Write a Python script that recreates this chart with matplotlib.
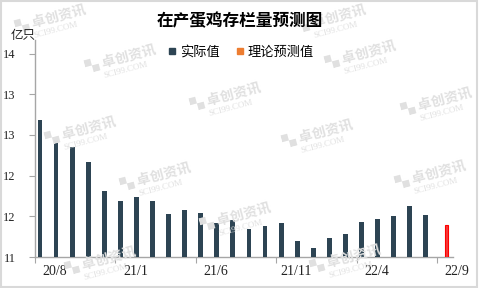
import matplotlib
matplotlib.use("Agg")
import matplotlib.pyplot as plt
import matplotlib.transforms as mtransforms
from matplotlib.lines import Line2D
from matplotlib.patches import Rectangle

plt.rcParams['font.family'] = ['Noto Sans CJK SC', 'DejaVu Sans']

# ---- data ----
categories = ['20/8', '20/9', '20/10', '20/11', '20/12', '21/1', '21/2', '21/3', '21/4',
              '21/5', '21/6', '21/7', '21/8', '21/9', '21/10', '21/11', '21/12', '22/1',
              '22/2', '22/3', '22/4', '22/5', '22/6', '22/7', '22/8', '22/9']
actual = [13.02, 12.72, 12.62, 12.40, 11.97, 11.82, 11.88, 11.82, 11.63, 11.70,
          11.65, 11.50, 11.54, 11.41, 11.45, 11.50, 11.23, 11.13, 11.28, 11.34,
          11.51, 11.56, 11.60, 11.75, 11.62]
predicted_index = 25
predicted = 11.47
y_ticks = [11, 11.6, 12.2, 12.8, 13.4, 14]
y_tick_labels = ['11', '12', '12', '13', '13', '14']
x_label_every = 5

fig = plt.figure(figsize=(4.8, 2.88), dpi=100)
ax = fig.add_axes([35/480, 1-257/288, (453-35)/480, (257-40)/288])

dark = '#2d4453'
xs = list(range(len(actual)))
ax.bar([x - 0.19 for x in xs], actual, width=0.30, bottom=0, color=dark, zorder=3)
ax.bar([predicted_index + 0.11], [predicted], width=0.19, color='#f43a3a',
       edgecolor='#ff0000', linewidth=0.8, zorder=3)

ax.set_xlim(-0.5, len(categories) - 0.5)
ax.set_ylim(11, 14.2)

# y axis
ax.set_yticks(y_ticks)
ax.set_yticklabels(y_tick_labels, fontsize=9, family=['Liberation Serif'], color='#222222')
ax.tick_params(axis='y', direction='out', length=4, width=0.8, color='#a6a6a6', pad=10)

# x axis: labels every 5 categories, shifted right; tick marks between groups
lab_pos = list(range(0, len(categories), x_label_every))
ax.set_xticks(lab_pos)
ax.set_xticklabels([categories[i] for i in lab_pos], fontsize=10,
                   family=['Liberation Serif'], color='#222222')
ax.tick_params(axis='x', which='major', length=0, pad=6)
ax.set_xticks([p - 0.5 for p in lab_pos], minor=True)
ax.tick_params(axis='x', which='minor', direction='out', length=4, width=0.8, color='#a6a6a6')
offset = mtransforms.ScaledTranslation(12/100, 0, fig.dpi_scale_trans)
for lbl in ax.get_xticklabels():
    lbl.set_transform(lbl.get_transform() + offset)

for s in ['top', 'right']:
    ax.spines[s].set_visible(False)
for s in ['left', 'bottom']:
    ax.spines[s].set_color('#a6a6a6')
    ax.spines[s].set_linewidth(1.0)

# unit label
fig.text(23/480, 1-36/288, '亿只', fontsize=9, ha='center', va='center', color='#222222')

# title
fig.text(240/480, 1-21/288, '在产蛋鸡存栏量预测图', fontsize=12, fontweight='bold',
         ha='center', va='center', color='#000000', zorder=5)

# legend
handles = [Line2D([], [], marker='s', linestyle='none', markersize=4, color=dark),
           Line2D([], [], marker='s', linestyle='none', markersize=4, color='#ed7d31')]
fig.legend(handles, ['实际值', '理论预测值'], loc='center', bbox_to_anchor=(241/480, 1-52/288),
           ncol=2, frameon=False, fontsize=9.5, handlelength=0.6, handletextpad=0.3,
           columnspacing=1.2, borderpad=0)

# watermarks
wm = [(50, 22), (120, 62), (225, 100), (80, 134), (155, 180), (235, 220), (100, 264),
      (330, 22), (360, 58), (436, 105), (317, 137), (430, 178), (345, 262)]
for (px, py) in wm:
    fig.text(px/480, 1-(py-4)/288, '▚ 卓创资讯', fontsize=10, fontweight='bold',
             color='#e0e0e0', ha='center', va='center', rotation=15, zorder=0)
    fig.text((px+6)/480, 1-(py+8)/288, 'SCI99.COM', fontsize=6.5, family=['Liberation Serif'],
             color='#e0e0e0', ha='center', va='center', rotation=15, zorder=0)

# figure border
fig.patches.append(Rectangle((0.002, 0.003), 0.992, 0.994, transform=fig.transFigure,
                             fill=False, edgecolor='#d9d9d9', linewidth=1.5))

fig.savefig('out.png', dpi=100)
